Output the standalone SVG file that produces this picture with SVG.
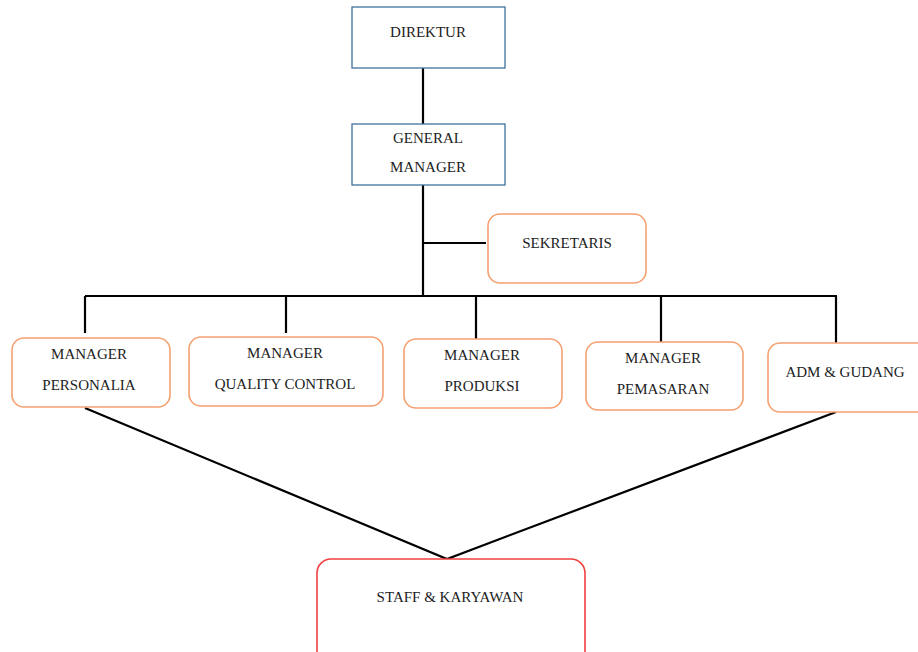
<svg xmlns="http://www.w3.org/2000/svg" width="918" height="652" viewBox="0 0 918 652">
<style>
text{font-size:15px;fill:#222;text-anchor:middle}
.blue{fill:#fff;stroke:#41719c;stroke-width:1.3}
.org{fill:#fff;stroke:#f4a070;stroke-width:1.6}
.red{fill:#fff;stroke:#f04040;stroke-width:1.6}
.ln{stroke:#000;stroke-width:2.2;fill:none}
</style>
<rect width="918" height="652" fill="#fff"/>
<g id="connectors">
<path class="ln" d="M423 68V124M423 185V296M423 243H486M85 296H837M85 296V333M286 296V333M476 296V339M661 296V342M836 296V343"/>
<path class="ln" d="M85 408L447 559L836 412"/>
</g>
<g font-family="Liberation Serif, Times New Roman, serif">
<g id="direktur"><rect class="blue" x="352" y="7" width="153" height="61"/><text x="428" y="37">DIREKTUR</text></g>
<g id="gm"><rect class="blue" x="352" y="124" width="153" height="61"/><text x="428" y="143">GENERAL</text><text x="428" y="172">MANAGER</text></g>
<g id="sekretaris"><rect class="org" x="488" y="214" width="158" height="69" rx="12"/><text x="567" y="248">SEKRETARIS</text></g>
<g id="personalia"><rect class="org" x="12" y="338" width="158" height="69" rx="12"/><text x="89" y="359">MANAGER</text><text x="89" y="390">PERSONALIA</text></g>
<g id="qc"><rect class="org" x="189" y="337" width="194" height="69" rx="12"/><text x="285" y="358">MANAGER</text><text x="285" y="389">QUALITY CONTROL</text></g>
<g id="produksi"><rect class="org" x="404" y="339" width="158" height="69" rx="12"/><text x="482" y="360">MANAGER</text><text x="482" y="391">PRODUKSI</text></g>
<g id="pemasaran"><rect class="org" x="586" y="342" width="157" height="68" rx="12"/><text x="663" y="363">MANAGER</text><text x="663" y="394">PEMASARAN</text></g>
<g id="adm"><rect class="org" x="768" y="343" width="170" height="69" rx="12"/><text x="845" y="377">ADM &amp; GUDANG</text></g>
<g id="staff"><rect class="red" x="317" y="559" width="268" height="110" rx="14"/><text x="450" y="602">STAFF &amp; KARYAWAN</text></g>
</g>
</svg>
